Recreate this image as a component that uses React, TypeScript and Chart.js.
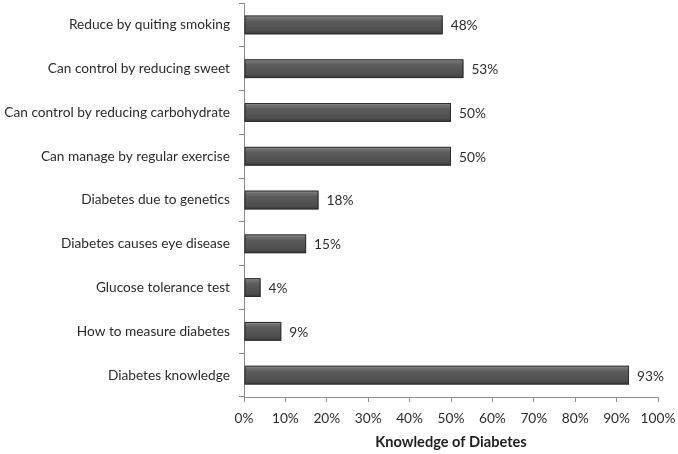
import React, { useEffect, useRef } from "react";
import { Chart, registerables } from "chart.js";
Chart.register(...registerables);

const categories = [
  "Reduce by quiting smoking",
  "Can control by reducing sweet",
  "Can control by reducing carbohydrate",
  "Can manage by regular exercise",
  "Diabetes due to genetics",
  "Diabetes causes eye disease",
  "Glucose tolerance test",
  "How to measure diabetes",
  "Diabetes knowledge",
];
const values = [48, 53, 50, 50, 18, 15, 4, 9, 93];
const xTicks = [0, 10, 20, 30, 40, 50, 60, 70, 80, 90, 100];
const xTitle = "Knowledge of Diabetes";

const FONT = "Lato, 'Open Sans', sans-serif";

const barStyle = {
  id: "barStyle",
  afterDatasetsDraw(chart: any) {
    const ctx = chart.ctx;
    const meta = chart.getDatasetMeta(0);
    meta.data.forEach((el: any, i: number) => {
      const p = el.getProps(["x", "y", "base", "height"], true);
      const left = Math.min(p.base, p.x);
      const right = Math.max(p.base, p.x);
      const top = p.y - p.height / 2;
      const h = p.height;
      ctx.save();
      const g = ctx.createLinearGradient(0, top, 0, top + h);
      g.addColorStop(0, "#a0a0a0");
      g.addColorStop(0.12, "#727272");
      g.addColorStop(0.3, "#5c5c5c");
      g.addColorStop(0.8, "#4e4e4e");
      g.addColorStop(1, "#383838");
      ctx.fillStyle = g;
      ctx.fillRect(left, top, right - left, h);
      ctx.strokeStyle = "#2e2e2e";
      ctx.lineWidth = 1;
      ctx.strokeRect(left + 0.5, top + 0.5, right - left - 1, h - 1);
      ctx.fillStyle = "#2b2b2b";
      ctx.font = "13.7px " + FONT;
      ctx.textBaseline = "middle";
      ctx.textAlign = "left";
      ctx.fillText(values[i] + "%", right + 8, p.y + 1);
      ctx.restore();
    });
  },
};

export default function App() {
  const ref = useRef<HTMLCanvasElement | null>(null);
  useEffect(() => {
    document.body.style.margin = "0";
    const chart = new Chart(ref.current!, {
      type: "bar",
      data: {
        labels: categories,
        datasets: [
          {
            data: values,
            backgroundColor: "rgba(0,0,0,0)",
            borderWidth: 0,
            barPercentage: 0.43,
            categoryPercentage: 1,
          },
        ],
      },
      options: {
        indexAxis: "y",
        animation: false,
        responsive: false,
        layout: { padding: { top: 3, right: 20, left: 0, bottom: 0 } },
        plugins: { legend: { display: false }, tooltip: { enabled: false } },
        scales: {
          x: {
            min: 0,
            max: 100,
            afterBuildTicks: (s: any) => {
              s.ticks = xTicks.map((v) => ({ value: v }));
            },
            ticks: {
              callback: (v: any) => v + "%",
              color: "#2b2b2b",
              font: { family: FONT, size: 13.7 },
              padding: 8,
              maxRotation: 0,
            },
            grid: {
              drawOnChartArea: false,
              tickLength: 5,
              color: "#8c8c8c",
            },
            border: { color: "#8c8c8c" },
            title: {
              display: true,
              text: xTitle,
              color: "#1e1e1e",
              font: { family: FONT, size: 14.6, weight: "bold" },
              padding: { top: 4, bottom: 3 },
            },
            afterFit: (s: any) => {
              s.height = 57;
              s.paddingLeft = 0;
              s.paddingRight = 0;
            },
          },
          y: {
            ticks: {
              color: "#2b2b2b",
              font: { family: FONT, size: 13.7 },
              padding: 9,
            },
            grid: {
              drawOnChartArea: false,
              tickLength: 5,
              offset: true,
              color: "#8c8c8c",
            },
            border: { color: "#8c8c8c" },
            afterFit: (s: any) => {
              s.width = 244;
              s.paddingTop = 0;
              s.paddingBottom = 0;
            },
          },
        },
      },
      plugins: [barStyle],
    });
    return () => chart.destroy();
  }, []);
  return (
    <div style={{ width: 678, height: 454 }}>
      <canvas ref={ref} width={678} height={454} />
    </div>
  );
}
